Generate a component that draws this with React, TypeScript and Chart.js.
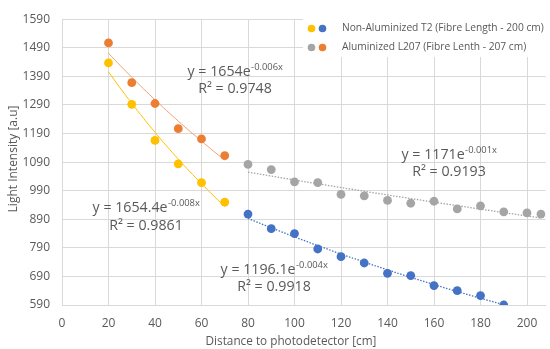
import { useEffect, useRef } from "react";
import { Chart, registerables } from "chart.js";

Chart.register(...registerables);

// ---- data ----
const xNonAlShort = [20, 30, 40, 50, 60, 70];
const yNonAlShort = [1437, 1292, 1166, 1084, 1018, 950];
const xAlShort = [20, 30, 40, 50, 60, 70];
const yAlShort = [1507, 1368, 1295, 1207, 1171, 1113];
const xNonAlLong = [80, 90, 100, 110, 120, 130, 140, 150, 160, 170, 180, 190];
const yNonAlLong = [908, 857, 840, 786, 759, 737, 701, 693, 658, 640, 623, 590];
const xAlLong = [80, 90, 100, 110, 120, 130, 140, 150, 160, 170, 180, 190, 200, 206];
const yAlLong = [1082, 1064, 1021, 1018, 977, 972, 956, 946, 953, 926, 937, 916, 912, 908];

const xTicks = [0, 20, 40, 60, 80, 100, 120, 140, 160, 180, 200];
const yTicks = [590, 690, 790, 890, 990, 1090, 1190, 1290, 1390, 1490, 1590];

const legendLabels = [
  "Non-Aluminized T2 (Fibre Length - 200 cm)",
  "Aluminized L207 (Fibre Lenth - 207 cm)",
];
const xTitle = "Distance to photodetector [cm]";
const yTitle = "Light Intensity [a.u]";

const eqMain = ["y = 1654e", "y = 1654.4e", "y = 1171e", "y = 1196.1e"];
const eqExp = ["-0.006x", "-0.008x", "-0.001x", "-0.004x"];
const eqR2 = ["R² = 0.9748", "R² = 0.9861", "R² = 0.9193", "R² = 0.9918"];

// ---- styles / layout ----
const YELLOW = "#FFC000";
const BLUE = "#4472C4";
const GREY = "#A5A5A5";
const ORANGE = "#ED7D31";
const TEXT = "#595959";
const GRID = "#D9D9D9";
const FONT = "'Open Sans'";

// annotation centers [cx, line1 y, line2 y]
const eqPos = [
  [235, 72, 89],
  [146, 208, 226],
  [449, 155, 172],
  [274, 270, 287],
];

function toPts(xs: number[], ys: number[]) {
  return xs.map((x, i) => ({ x, y: ys[i] }));
}

function expTrend(xs: number[], ys: number[]) {
  const n = xs.length;
  let sx = 0, sy = 0, sxx = 0, sxy = 0;
  for (let i = 0; i < n; i++) {
    const l = Math.log(ys[i]);
    sx += xs[i];
    sy += l;
    sxx += xs[i] * xs[i];
    sxy += xs[i] * l;
  }
  const b = (n * sxy - sx * sy) / (n * sxx - sx * sx);
  const a = Math.exp((sy - b * sx) / n);
  const x0 = Math.min(...xs);
  const x1 = Math.max(...xs);
  const pts: { x: number; y: number }[] = [];
  const steps = 40;
  for (let k = 0; k <= steps; k++) {
    const x = x0 + ((x1 - x0) * k) / steps;
    pts.push({ x, y: a * Math.exp(b * x) });
  }
  return pts;
}

function fitSize(ctx: CanvasRenderingContext2D, text: string, target: number) {
  ctx.font = `100px ${FONT}`;
  const w = ctx.measureText(text).width;
  return (100 * target) / w;
}

const overlayPlugin = {
  id: "overlay",
  afterDraw(chart: any) {
    const ctx: CanvasRenderingContext2D = chart.ctx;
    ctx.save();
    // axis titles
    ctx.fillStyle = TEXT;
    ctx.textAlign = "center";
    ctx.textBaseline = "middle";
    let s = fitSize(ctx, xTitle, 171);
    ctx.font = `${s}px ${FONT}`;
    ctx.fillText(xTitle, 291, 342);
    s = fitSize(ctx, yTitle, 107);
    ctx.font = `${s}px ${FONT}`;
    ctx.save();
    ctx.translate(14, 159);
    ctx.rotate(-Math.PI / 2);
    ctx.fillText(yTitle, 0, 0);
    ctx.restore();

    // legend
    ctx.fillStyle = "#FFFFFF";
    ctx.fillRect(303, 15, 247, 42);
    const legendColors = [
      [YELLOW, BLUE],
      [GREY, ORANGE],
    ];
    const ly = [28.5, 47.5];
    const ls = fitSize(ctx, legendLabels[0], 202);
    for (let i = 0; i < 2; i++) {
      legendColors[i].forEach((c, j) => {
        ctx.beginPath();
        ctx.fillStyle = c;
        ctx.arc(311.5 + j * 11, ly[i], 3.8, 0, Math.PI * 2);
        ctx.fill();
      });
      ctx.fillStyle = TEXT;
      ctx.textAlign = "left";
      ctx.font = `${ls}px ${FONT}`;
      ctx.fillText(legendLabels[i], 342, ly[i]);
    }

    // equations
    const es = fitSize(ctx, eqMain[1], 75);
    const ss = es * 0.66;
    for (let i = 0; i < eqMain.length; i++) {
      const [cx, y1, y2] = eqPos[i];
      ctx.font = `${es}px ${FONT}`;
      const wm = ctx.measureText(eqMain[i]).width;
      ctx.font = `${ss}px ${FONT}`;
      const we = ctx.measureText(eqExp[i]).width;
      const left = cx - (wm + we) / 2;
      ctx.fillStyle = TEXT;
      ctx.textAlign = "left";
      ctx.font = `${es}px ${FONT}`;
      ctx.fillText(eqMain[i], left, y1);
      ctx.font = `${ss}px ${FONT}`;
      ctx.fillText(eqExp[i], left + wm + 0.5, y1 - 5);
      ctx.font = `${es}px ${FONT}`;
      ctx.textAlign = "center";
      ctx.fillText(eqR2[i], cx, y2);
    }
    ctx.restore();
  },
};

export default function App() {
  const ref = useRef<HTMLCanvasElement | null>(null);

  useEffect(() => {
    if (!ref.current) return;
    const pointDs = (label: string, xs: number[], ys: number[], color: string) => ({
      label,
      data: toPts(xs, ys),
      showLine: false,
      pointRadius: 4.4,
      pointBorderWidth: 0,
      pointBackgroundColor: color,
      pointBorderColor: color,
      backgroundColor: color,
      borderColor: color,
    });
    const trendDs = (xs: number[], ys: number[], color: string, dash: number[], width: number) => ({
      label: "trend",
      data: expTrend(xs, ys),
      showLine: true,
      pointRadius: 0,
      borderColor: color,
      borderWidth: width,
      borderDash: dash,
      tension: 0,
      fill: false,
    });

    const chart = new Chart(ref.current, {
      type: "scatter",
      data: {
        datasets: [
          pointDs("Non-Aluminized T2 short", xNonAlShort, yNonAlShort, YELLOW),
          pointDs("Non-Aluminized T2 long", xNonAlLong, yNonAlLong, BLUE),
          pointDs("Aluminized L207 long", xAlLong, yAlLong, GREY),
          pointDs("Aluminized L207 short", xAlShort, yAlShort, ORANGE),
          trendDs(xNonAlShort, yNonAlShort, YELLOW, [], 1),
          trendDs(xAlShort, yAlShort, "#F0A070", [], 1),
          trendDs(xNonAlLong, yNonAlLong, BLUE, [1.5, 1.5], 1.3),
          trendDs(xAlLong, yAlLong, GREY, [1.5, 1.5], 1.3),
        ] as any,
      },
      options: {
        animation: false,
        responsive: false,
        devicePixelRatio: 1,
        layout: { padding: { top: 13, right: 0, left: 0, bottom: 0 } },
        plugins: { legend: { display: false }, tooltip: { enabled: false } },
        scales: {
          x: {
            type: "linear",
            min: 0,
            max: 208,
            afterBuildTicks: (scale: any) => {
              scale.ticks = xTicks.map((v) => ({ value: v }));
            },
            afterFit: (scale: any) => {
              scale.height = 44;
            },
            grid: { color: GRID, drawTicks: false },
            border: { color: GRID },
            ticks: {
              color: TEXT,
              font: { family: "Open Sans", size: 12 },
              padding: 11,
              maxRotation: 0,
              callback: (v: any) => String(v),
            },
          },
          y: {
            type: "linear",
            min: 590,
            max: 1590,
            afterBuildTicks: (scale: any) => {
              scale.ticks = yTicks.map((v) => ({ value: v }));
            },
            afterFit: (scale: any) => {
              scale.width = 62;
            },
            grid: { color: GRID, drawTicks: false },
            border: { color: GRID },
            ticks: {
              color: TEXT,
              font: { family: "Open Sans", size: 12 },
              padding: 12,
              callback: (v: any) => String(v),
            },
          },
        },
      } as any,
      plugins: [overlayPlugin],
    });
    return () => chart.destroy();
  }, []);

  return (
    <div style={{ position: "fixed", left: 0, top: 0, width: 550, height: 349, background: "#fff" }}>
      <canvas ref={ref} width={550} height={349} />
    </div>
  );
}
